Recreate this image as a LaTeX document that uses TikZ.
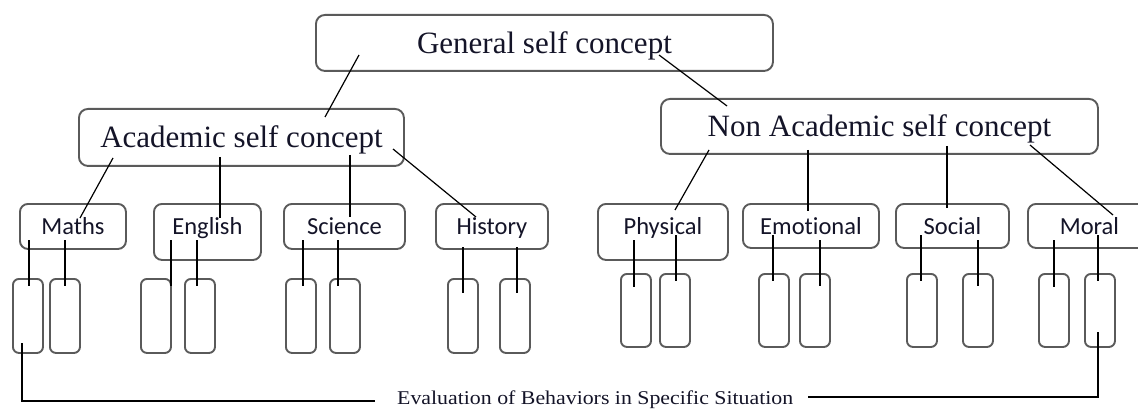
\documentclass[tikz,border=0pt]{standalone}
\usepackage{fontspec}
\setmainfont{Liberation Serif}
\newfontfamily\calfont[Ligatures=NoCommon]{Carlito}
\newfontfamily\evalfont[FakeStretch=1.12]{Liberation Serif}
\definecolor{boxgray}{HTML}{5A5A5A}
\definecolor{txt}{HTML}{141428}
\begin{document}
\begin{tikzpicture}[x=1pt,y=-1pt,
  box/.style={draw=boxgray, line width=1.9pt, rounded corners=9pt, inner sep=0pt, anchor=north west, text=txt},
  big/.style={box, font=\fontsize{31}{36}\selectfont, text height=39pt},
  sub/.style={box, rounded corners=8pt, font=\calfont\fontsize{24.5}{29}\selectfont, text height=31pt},
  leaf/.style={draw=boxgray, line width=1.9pt, rounded corners=6pt, inner sep=0pt, anchor=north west, minimum width=30pt},
  leafA/.style={leaf, minimum height=74pt},
  leafN/.style={leaf, minimum height=73pt},
  conn/.style={line width=1.2pt, draw=black}]
\useasboundingbox (0,0) rectangle (1138,409);

% main boxes
\node[big, minimum width=457pt, text depth=17pt] (gen) at (315,14) {General self concept};
\node[big, minimum width=325pt, text depth=18pt] (acad) at (78,108) {Academic self concept};
\node[big, minimum width=437pt, text height=38pt, text depth=17pt] (nonacad) at (660,98) {Non Academic self concept};

% sub boxes
\node[sub, minimum width=106pt, text depth=14pt] (maths) at (19,203) {Maths};
\node[sub, minimum width=107pt, text depth=25pt] (english) at (153,203) {English};
\node[sub, minimum width=121pt, text depth=14pt] (science) at (283,203) {Science};
\node[sub, minimum width=112pt, text depth=14pt] (history) at (435,203) {History};
\node[sub, minimum width=130pt, text depth=25pt] (physical) at (597,203) {Physical};
\node[sub, minimum width=136pt, text depth=13pt] (emotional) at (742,203) {Emotional};
\node[sub, minimum width=113pt, text depth=13pt] (social) at (895,203) {Social};
\node[sub, minimum width=123pt, text depth=13pt] (moral) at (1027,203) {Moral};

% leaves
\node[leafA] (m1) at (12,278) {};
\node[leafA] (m2) at (49,278) {};
\node[leafA] (e1) at (140,278) {};
\node[leafA] (e2) at (184,278) {};
\node[leafA] (s1) at (285,278) {};
\node[leafA] (s2) at (329,278) {};
\node[leafA] (h1) at (447,278) {};
\node[leafA] (h2) at (499,278) {};
\node[leafN] (p1) at (620,273) {};
\node[leafN] (p2) at (659,273) {};
\node[leafN] (em1) at (758,273) {};
\node[leafN] (em2) at (799,273) {};
\node[leafN] (so1) at (906,273) {};
\node[leafN] (so2) at (962,273) {};
\node[leafN] (mo1) at (1038,273) {};
\node[leafN] (mo2) at (1084,273) {};

% evaluation label
\node[anchor=base west, inner sep=0pt, text=txt, font=\evalfont\fontsize{19.5}{24}\selectfont] (eval) at (397,404) {Evaluation of Behaviors in Specific Situation};
\coordinate (evL) at (375,401);
\coordinate (evR) at (808,397);

% top connectors
\draw[conn] ([shift={(44,41)}]gen.north west) -- ([shift={(247,9)}]acad.north west);
\draw[conn] ([shift={(344,41)}]gen.north west) -- ([shift={(67,8)}]nonacad.north west);

\draw[conn] ([shift={(35,50)}]acad.north west) -- ([shift={(61,15)}]maths.north west);
\draw[conn] ([shift={(142,49)}]acad.north west) -- ([shift={(67,15)}]english.north west);
\draw[conn] ([shift={(272,47)}]acad.north west) -- ([shift={(67,14)}]science.north west);
\draw[conn] ([shift={(315,41)}]acad.north west) -- ([shift={(41,14)}]history.north west);

\draw[conn] ([shift={(49,52)}]nonacad.north west) -- ([shift={(78,7)}]physical.north west);
\draw[conn] ([shift={(148,52)}]nonacad.north west) -- ([shift={(66,8)}]emotional.north west);
\draw[conn] ([shift={(287,48)}]nonacad.north west) -- ([shift={(52,5)}]social.north west);
\draw[conn] ([shift={(370,47)}]nonacad.north west) -- ([shift={(86,12)}]moral.north west);

% sub to leaves
\draw[conn] ([shift={(10,37)}]maths.north west) -- ([shift={(17,8)}]m1.north west);
\draw[conn] ([shift={(46,37)}]maths.north west) -- ([shift={(16,8)}]m2.north west);
\draw[conn] ([shift={(18,37)}]english.north west) -- ([shift={(31,8)}]e1.north west);
\draw[conn] ([shift={(44,37)}]english.north west) -- ([shift={(13,8)}]e2.north west);
\draw[conn] ([shift={(20,37)}]science.north west) -- ([shift={(18,8)}]s1.north west);
\draw[conn] ([shift={(55,37)}]science.north west) -- ([shift={(9,8)}]s2.north west);
\draw[conn] ([shift={(28,44)}]history.north west) -- ([shift={(16,15)}]h1.north west);
\draw[conn] ([shift={(82,44)}]history.north west) -- ([shift={(18,15)}]h2.north west);
\draw[conn] ([shift={(37,37)}]physical.north west) -- ([shift={(14,14)}]p1.north west);
\draw[conn] ([shift={(79,32)}]physical.north west) -- ([shift={(17,8)}]p2.north west);
\draw[conn] ([shift={(31,32)}]emotional.north west) -- ([shift={(15,8)}]em1.north west);
\draw[conn] ([shift={(78,37)}]emotional.north west) -- ([shift={(21,13)}]em2.north west);
\draw[conn] ([shift={(26,32)}]social.north west) -- ([shift={(15,8)}]so1.north west);
\draw[conn] ([shift={(83,37)}]social.north west) -- ([shift={(16,13)}]so2.north west);
\draw[conn] ([shift={(27,37)}]moral.north west) -- ([shift={(16,14)}]mo1.north west);
\draw[conn] ([shift={(71,32)}]moral.north west) -- ([shift={(14,8)}]mo2.north west);

% bottom connectors
\draw[conn] ([shift={(10,65)}]m1.north west) |- (evL);
\draw[conn] ([shift={(14,59)}]mo2.north west) |- (evR);
\end{tikzpicture}
\end{document}
